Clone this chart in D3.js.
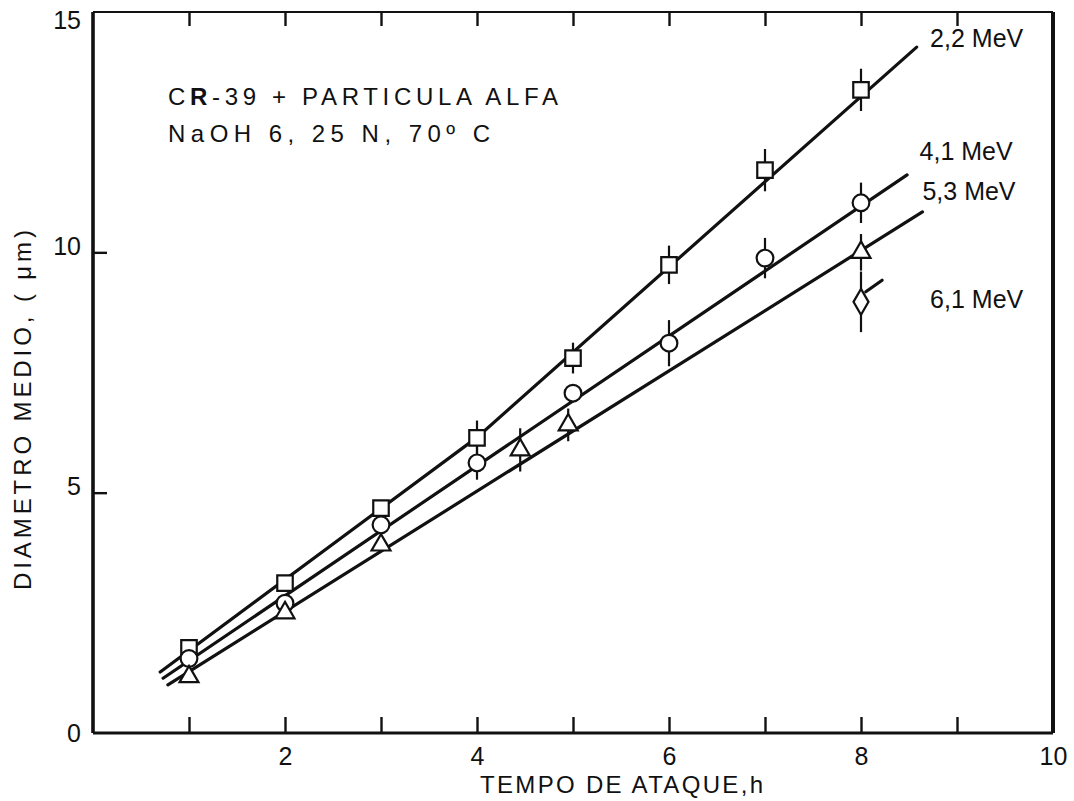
<!DOCTYPE html>
<html>
<head>
<meta charset="utf-8">
<style>
body{margin:0;background:#fff;}
svg text{font-family:"Liberation Sans",Arial,sans-serif;fill:#111;}
.frame line{stroke:#111;}
.ticks line{stroke:#111;stroke-width:2.4;}
.ticks path{display:none;}
</style>
<title>CR-39 + particula alfa</title>
</head>
<body>
<svg id="chart" width="1074" height="801"></svg>
<script src="https://d3js.org/d3.v7.min.js"></script>
<script>
// tempo de ataque (h) e diametro medio (um)
var tempo = [1, 2, 3, 4, 5, 6, 7, 8];
var diam22 = [1.77, 3.12, 4.68, 6.14, 7.80, 9.74, 11.71, 13.38];
var err22  = [0, 0, 0, 0.36, 0.32, 0.40, 0.44, 0.44];
var diam41 = [1.55, 2.70, 4.33, 5.62, 7.07, 8.11, 9.88, 11.03];
var err41  = [0, 0, 0, 0.35, 0, 0.48, 0.42, 0.42];
var tempo53 = [1, 2, 3, 4.45, 4.95, 8];
var diam53  = [1.17, 2.5, 3.91, 5.89, 6.41, 10.0];
var err53   = [0, 0, 0, 0.45, 0.34, 0.38];
var tempo61 = [8];
var diam61  = [8.97];
var err61   = [0.63];

// retas ajustadas (vertices)
var fit22 = [[0.70, 1.27], [4.0, 6.15], [8.58, 14.27]];
var fit41 = [[0.73, 1.14], [8.48, 11.61]];
var fit53 = [[0.78, 1.00], [8.64, 10.84]];
var fit61 = [[8.05, 9.18], [8.22, 9.42]];

var xTicks = [1, 2, 3, 4, 5, 6, 7, 8, 9];
var xLabels = [2, 4, 6, 8, 10];
var yTicks = [5, 10];
var yLabels = [0, 5, 10, 15];

var svg = d3.select("#chart");
var x = d3.scaleLinear().domain([0, 10]).range([93, 1053]);
var y = d3.scaleLinear().domain([0, 15]).range([733, 12]);

// frame
var fr = svg.append("g").attr("class", "frame");
fr.append("line").attr("x1", x(0)).attr("x2", x(10)).attr("y1", y(15)).attr("y2", y(15)).attr("stroke-width", 2.2);
fr.append("line").attr("x1", x(0)).attr("x2", x(10)).attr("y1", y(0)).attr("y2", y(0)).attr("stroke-width", 3.2);
fr.append("line").attr("x1", x(0)).attr("x2", x(0)).attr("y1", y(15)).attr("y2", y(0)).attr("stroke-width", 3.6);
fr.append("line").attr("x1", x(10)).attr("x2", x(10)).attr("y1", y(15)).attr("y2", y(0)).attr("stroke-width", 4);

// inward ticks
svg.append("g").attr("class", "ticks").attr("transform", "translate(0," + y(0) + ")")
    .call(d3.axisBottom(x).tickValues(xTicks).tickSizeInner(-16).tickSizeOuter(0).tickFormat(""));
svg.append("g").attr("class", "ticks").attr("transform", "translate(0," + y(15) + ")")
    .call(d3.axisTop(x).tickValues(xTicks).tickSizeInner(-14).tickSizeOuter(0).tickFormat(""));
svg.append("g").attr("class", "ticks").attr("transform", "translate(" + x(0) + ",0)")
    .call(d3.axisLeft(y).tickValues(yTicks).tickSizeInner(-14).tickSizeOuter(0).tickFormat(""));

// tick labels
var xl = svg.append("g").attr("class", "ticks").attr("transform", "translate(0," + y(0) + ")")
    .call(d3.axisBottom(x).tickValues(xLabels).tickSize(0).tickPadding(14));
xl.selectAll("text").style("font-size", "25px").style("font-family", "Liberation Sans");
var yl = svg.append("g").attr("class", "ticks").attr("transform", "translate(" + x(0) + ",0)")
    .call(d3.axisLeft(y).tickValues(yLabels).tickSize(0).tickPadding(12));
yl.selectAll("text").style("font-size", "25px").style("font-family", "Liberation Sans")
    .attr("y", function(d){ return d === 15 ? 8 : (d === 0 ? 0 : -6); });

// fitted lines
var line = d3.line().x(function(d){ return x(d[0]); }).y(function(d){ return y(d[1]); });
[fit22, fit41, fit53, fit61].forEach(function(f){
    svg.append("path").attr("d", line(f)).attr("fill", "none")
        .attr("stroke", "#111").attr("stroke-width", 3.2).attr("stroke-linecap", "round");
});

// series with markers and error bars
var series = [
    {t: tempo,   d: diam22, e: err22, sym: d3.symbolSquare,   size: 240},
    {t: tempo,   d: diam41, e: err41, sym: d3.symbolCircle,   size: 220},
    {t: tempo53, d: diam53, e: err53, sym: d3.symbolTriangle, size: 155},
    {t: tempo61, d: diam61, e: err61, sym: d3.symbolDiamond,  size: 195}
];

series.forEach(function(s){
    var pts = s.t.map(function(t, i){ return {t: t, d: s.d[i], e: s.e[i]}; });
    var g = svg.append("g");
    g.selectAll("line.err").data(pts.filter(function(p){ return p.e > 0; })).enter()
        .append("line").attr("class", "err")
        .attr("x1", function(p){ return x(p.t); }).attr("x2", function(p){ return x(p.t); })
        .attr("y1", function(p){ return y(p.d + p.e); }).attr("y2", function(p){ return y(p.d - p.e); })
        .attr("stroke", "#111").attr("stroke-width", 2.2);
    g.selectAll("path").data(pts).enter().append("path")
        .attr("d", d3.symbol().type(s.sym).size(s.size))
        .attr("transform", function(p){ return "translate(" + x(p.t) + "," + y(p.d) + ")"; })
        .attr("fill", "#fff").attr("stroke", "#111").attr("stroke-width", 2.2);
});

// energy labels
var lab = [
    {txt: "2,2 MeV", t: 8.72, v: 14.27},
    {txt: "4,1 MeV", t: 8.61, v: 11.92},
    {txt: "5,3 MeV", t: 8.64, v: 11.09},
    {txt: "6,1 MeV", t: 8.72, v: 8.84}
];
svg.selectAll("text.energy").data(lab).enter().append("text").attr("class", "energy")
    .attr("x", function(d){ return x(d.t); }).attr("y", function(d){ return y(d.v); })
    .style("font-size", "25px").text(function(d){ return d.txt; });

// note
var n1 = svg.append("text").attr("x", 168).attr("y", 105).style("font-size", "24px")
    .attr("textLength", 390).attr("lengthAdjust", "spacing");
n1.append("tspan").text("C");
n1.append("tspan").style("font-weight", "bold").text("R");
n1.append("tspan").text("-39 + PARTICULA ALFA");
svg.append("text").attr("x", 168).attr("y", 142).style("font-size", "24px")
    .attr("textLength", 322).attr("lengthAdjust", "spacing").text("NaOH 6, 25 N, 70º C");

// axis titles
svg.append("text").attr("x", 480).attr("y", 793).style("font-size", "24px")
    .attr("textLength", 283).attr("lengthAdjust", "spacing").text("TEMPO DE ATAQUE,h");
svg.append("text").attr("transform", "translate(31,410) rotate(-90)").attr("text-anchor", "middle")
    .style("font-size", "24px").attr("textLength", 360).attr("lengthAdjust", "spacing")
    .text("DIAMETRO MEDIO, ( μm)");
</script>
</body>
</html>
